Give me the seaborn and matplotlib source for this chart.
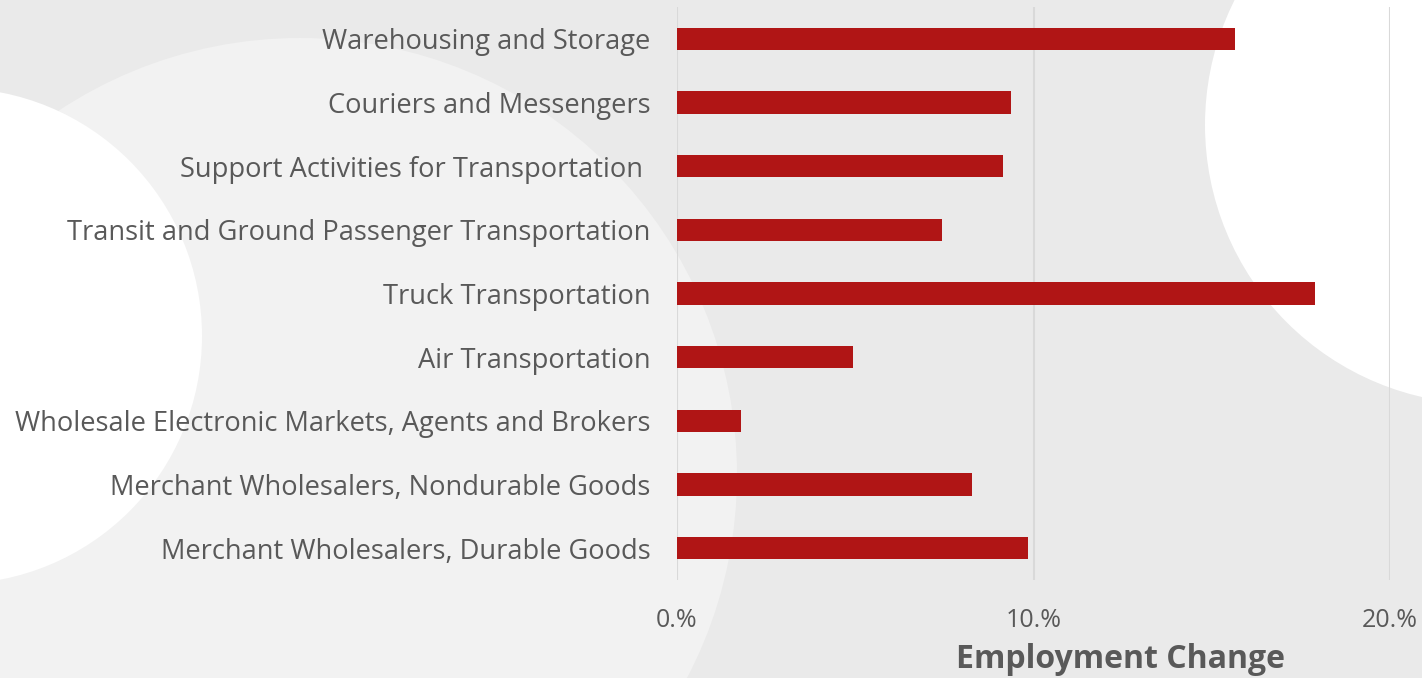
import matplotlib
matplotlib.use("Agg")
import matplotlib.pyplot as plt
from matplotlib.patches import Circle
import seaborn as sns
import pandas as pd

# data
industries = [
    "Warehousing and Storage",
    "Couriers and Messengers",
    "Support Activities for Transportation ",
    "Transit and Ground Passenger Transportation",
    "Truck Transportation",
    "Air Transportation",
    "Wholesale Electronic Markets, Agents and Brokers",
    "Merchant Wholesalers, Nondurable Goods",
    "Merchant Wholesalers, Durable Goods",
]
employment_change = [15.65, 9.37, 9.14, 7.43, 17.9, 4.94, 1.80, 8.27, 9.85]
x_ticks = [0, 10, 20]
x_tick_labels = ["0.%", "10.%", "20.%"]

df = pd.DataFrame({"industry": industries, "change": employment_change})

sns.set_theme(style="white")
plt.rcParams["font.family"] = ["Open Sans", "DejaVu Sans"]

W, H = 1422, 678
fig = plt.figure(figsize=(W / 100, H / 100), dpi=100)
fig.patch.set_facecolor("#eaeaea")

# decorative background circles, in pixel coordinates
bg = fig.add_axes([0, 0, 1, 1], zorder=0)
bg.set_xlim(0, W)
bg.set_ylim(H, 0)
bg.axis("off")
bg.add_patch(Circle((300, 475), 437, color="#f2f2f2", lw=0))
bg.add_patch(Circle((-46, 336), 248, color="#ffffff", lw=0))
bg.add_patch(Circle((1484, 125), 279, color="#ffffff", lw=0))

left, right = 677 / W, 1390 / W
top, bottom = 1 - 7 / H, 1 - 580 / H
ax = fig.add_axes([left, bottom, right - left, top - bottom], zorder=1)
ax.patch.set_alpha(0)

sns.barplot(data=df, x="change", y="industry", orient="h", color="#b01515",
            saturation=1, width=0.35, linewidth=0, ax=ax, zorder=3)

ax.set_xlim(0, 20)
ax.set_ylim(8.5, -0.5)
ax.set_xticks(x_ticks)
ax.set_xticklabels(x_tick_labels)
ax.grid(axis="x", color="#d9d9d9", lw=1.5, zorder=0)
for s in ax.spines.values():
    s.set_visible(False)
ax.tick_params(axis="x", length=0, labelsize=18, colors="#595959", pad=20)
ax.tick_params(axis="y", length=0, labelsize=19.6, colors="#595959", pad=19)
ax.set_ylabel("")
ax.set_xlabel("Employment Change", fontsize=23, fontweight="bold", color="#595959")
ax.xaxis.set_label_coords((1121 - 677) / (1390 - 677), -0.11)

fig.savefig("out.png", dpi=100)
